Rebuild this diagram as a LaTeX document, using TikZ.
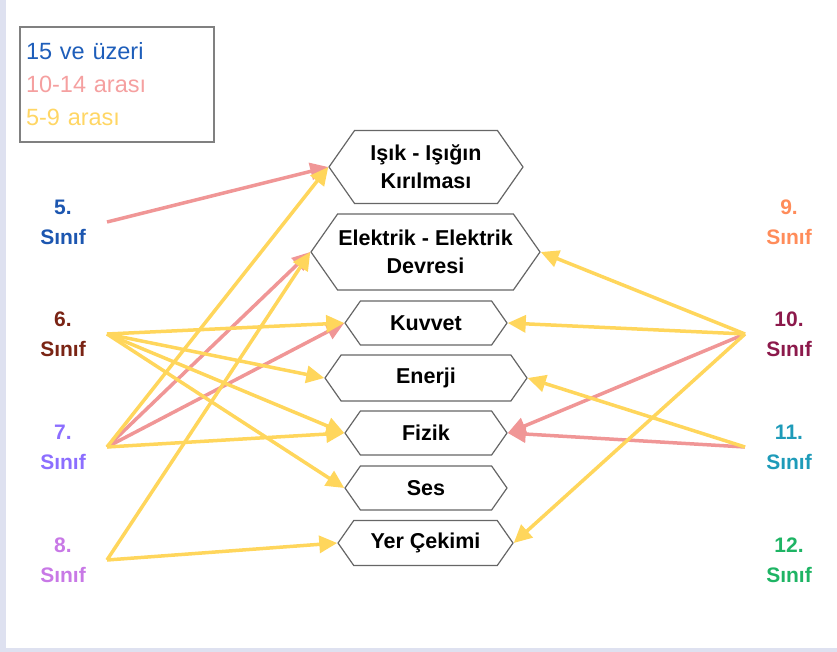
\documentclass[tikz,border=0pt]{standalone}
\usepackage{fontspec}
\setmainfont{Liberation Sans}
\usetikzlibrary{arrows.meta,shapes.symbols,positioning}

\definecolor{gelb}{RGB}{255,214,92}
\definecolor{rosa}{RGB}{240,150,150}
\definecolor{rahmen}{RGB}{222,225,240}
\definecolor{farbeA}{RGB}{30,94,186}
\definecolor{farbeB}{RGB}{245,160,160}
\definecolor{farbeC}{RGB}{255,214,100}
\definecolor{kl5}{RGB}{28,86,176}
\definecolor{kl6}{RGB}{122,36,20}
\definecolor{kl7}{RGB}{140,110,255}
\definecolor{kl8}{RGB}{200,120,230}
\definecolor{kl9}{RGB}{255,140,90}
\definecolor{kl10}{RGB}{140,25,75}
\definecolor{kl11}{RGB}{30,155,185}
\definecolor{kl12}{RGB}{30,180,100}

\tikzset{
  konu/.style={shape=signal, signal to=west and east, signal pointer angle=110,
    draw=black!60, line width=1.2pt, fill=white, inner sep=0pt, align=center,
    font=\bfseries\fontsize{21.5}{28}\selectfont},
  sinif/.style={align=center, font=\bfseries\fontsize{21}{30}\selectfont},
  pfeil/.style={line width=3.5pt, -{Triangle[length=18pt,width=17pt]}},
}

\begin{document}
\begin{tikzpicture}[x=1pt,y=-1pt]
\useasboundingbox (0,0) rectangle (837,652);
%Rand links und unten
\fill[rahmen] (0,0) rectangle (6,652);
\fill[rahmen] (0,648) rectangle (837,652);

%Legende
\node[draw=black!50, line width=2pt, anchor=north west, text width=182pt,
  inner xsep=6pt, minimum height=115pt, align=left,
  font=\fontsize{23.5}{33}\selectfont] (legende) at (19,26)
  {\textcolor{farbeA}{15 ve üzeri}\\\textcolor{farbeB}{10-14 arası}\\\textcolor{farbeC}{5-9 arası}};

%Konular
\node[konu, minimum width=194pt, minimum height=73pt] (isik) at (426,167) {Işık - Işığın\\Kırılması};
\node[konu, minimum width=229pt, minimum height=76pt] (elektrik) at (425.5,252) {Elektrik - Elektrik\\Devresi};
\node[konu, minimum width=162pt, minimum height=44pt] (kuvvet) at (426,323) {Kuvvet};
\node[konu, minimum width=202pt, minimum height=46pt] (enerji) at (426,378) {Enerji};
\node[konu, minimum width=162pt, minimum height=44pt] (fizik) at (426,433) {Fizik};
\node[konu, minimum width=162pt, minimum height=44pt] (ses) at (426,488) {Ses};
\node[konu, minimum width=175pt, minimum height=45pt] (yer) at (425.5,543) {Yer Çekimi};

%Sınıflar
\foreach \n/\y in {5/222,6/334,7/447,8/560}{
  \node[sinif, text=kl\n] (s\n) at (63,\y) {\n.\\Sınıf};
  \coordinate (p\n) at (107,\y);
}
\foreach \n/\y in {9/222,10/334,11/447,12/560}{
  \node[sinif, text=kl\n] (s\n) at (789,\y) {\n.\\Sınıf};
  \coordinate (p\n) at (745,\y);
}

%Pfeile
\foreach \von/\nach in {5/isik,7/elektrik,7/kuvvet}
  \draw[pfeil,rosa] (p\von) -- (\nach.west);
\foreach \von/\nach in {10/fizik,11/fizik}
  \draw[pfeil,rosa] (p\von) -- (\nach.east);
\foreach \von/\nach in {6/kuvvet,6/enerji,6/fizik,6/ses,7/isik,7/fizik,8/elektrik,8/yer}
  \draw[pfeil,gelb] (p\von) -- (\nach.west);
\foreach \von/\nach in {10/elektrik,10/kuvvet,10/yer,11/enerji}
  \draw[pfeil,gelb] (p\von) -- (\nach.east);
\end{tikzpicture}
\end{document}
